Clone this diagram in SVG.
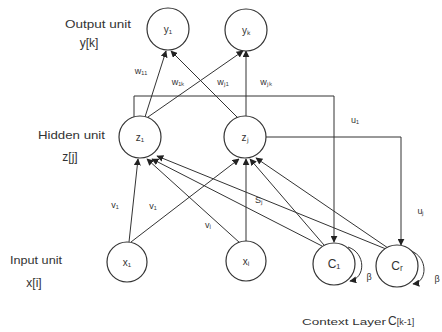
<svg xmlns="http://www.w3.org/2000/svg" width="442" height="332" viewBox="0 0 442 332">
<defs>
<marker id="ah" viewBox="0 0 10 10" refX="9" refY="5" markerWidth="7" markerHeight="7" orient="auto" markerUnits="userSpaceOnUse">
<path d="M0,0 L10,5 L0,10 z" fill="#222"/>
</marker>
</defs>
<style>
.n{fill:#fff;stroke:#333;stroke-width:1.2}
.e{fill:none;stroke:#333;stroke-width:1;marker-end:url(#ah)}
text{font-family:"Liberation Sans",Arial,sans-serif;fill:#333}
.t{font-size:11px}
.s{font-size:12px;text-anchor:middle}
.nl{font-size:10px;text-anchor:middle;dominant-baseline:central}
.w{font-size:9px;text-anchor:middle}
</style>
<rect width="442" height="332" fill="#fff"/>
<g id="connectors">
<path class="e" d="M145,117 L166,51"/>
<path class="e" d="M238,118 L171,51"/>
<path class="e" d="M148,117 L243,51"/>
<path class="e" d="M246,116 L246,51"/>
<path class="e" d="M134,117 L134,96 L334,96 L334,242"/>
<path class="e" d="M266,137 L401,137 L401,245"/>
<path class="e" d="M129,242 L138,159"/>
<path class="e" d="M131,242 L239,159"/>
<path class="e" d="M240,243 L147,159"/>
<path class="e" d="M246,241 L246,159"/>
<path class="e" d="M322,246 L152,159"/>
<path class="e" d="M324,245 L250,159"/>
<path class="e" d="M386,249 L157,156"/>
<path class="e" d="M388,248 L256,158"/>
<path class="e" d="M348,247 C366,253 366,278 350,281"/>
<path class="e" d="M411,251 C428,257 428,282 413,284"/>
</g>
<g id="y1"><circle class="n" cx="168" cy="29" r="21"/><text class="nl" x="168" y="29">y₁</text></g>
<g id="yk"><circle class="n" cx="246" cy="30" r="21"/><text class="nl" x="246" y="30">yₖ</text></g>
<g id="z1"><circle class="n" cx="140" cy="137" r="21"/><text class="nl" x="140" y="137">z₁</text></g>
<g id="zj"><circle class="n" cx="245" cy="137" r="21"/><text class="nl" x="245" y="137">zⱼ</text></g>
<g id="x1"><circle class="n" cx="127" cy="262" r="20"/><text class="nl" x="127" y="262">x₁</text></g>
<g id="xi"><circle class="n" cx="246" cy="261" r="20"/><text class="nl" x="246" y="261">xᵢ</text></g>
<g id="C1"><circle class="n" cx="334" cy="264" r="21"/><text class="nl" x="334" y="264" style="font-size:12px">C₁</text></g>
<g id="Cr"><circle class="n" cx="397" cy="266" r="21"/><text class="nl" x="397" y="266" style="font-size:12px">Cᵣ</text></g>
<g id="labels">
<text class="t" x="65" y="28" textLength="66" lengthAdjust="spacingAndGlyphs">Output unit</text>
<text class="s" x="89" y="47">y[k]</text>
<text class="t" x="38" y="139" textLength="67" lengthAdjust="spacingAndGlyphs">Hidden unit</text>
<text class="s" x="70" y="161">z[j]</text>
<text class="t" x="10" y="264" textLength="52" lengthAdjust="spacingAndGlyphs">Input unit</text>
<text class="s" x="34" y="287">x[i]</text>
<text class="w" x="141" y="74">w₁₁</text>
<text class="w" x="178" y="85">w₁ₖ</text>
<text class="w" x="223" y="85">wⱼ₁</text>
<text class="w" x="266" y="85">wⱼₖ</text>
<text class="w" x="355" y="123">u₁</text>
<text class="w" x="421" y="214">uⱼ</text>
<text class="w" x="115" y="208">v₁</text>
<text class="w" x="153" y="209">v₁</text>
<text class="w" x="208" y="228">vᵢ</text>
<text class="w" x="259" y="203">Sⱼ</text>
<text class="w" x="369" y="280">β</text>
<text class="w" x="437" y="282">β</text>
<text x="302" y="325" style="font-size:9px" textLength="84" lengthAdjust="spacingAndGlyphs">Context Layer</text>
<text x="388" y="325" style="font-size:12px">C<tspan style="font-size:9px">[k-1]</tspan></text>
</g>
</svg>
